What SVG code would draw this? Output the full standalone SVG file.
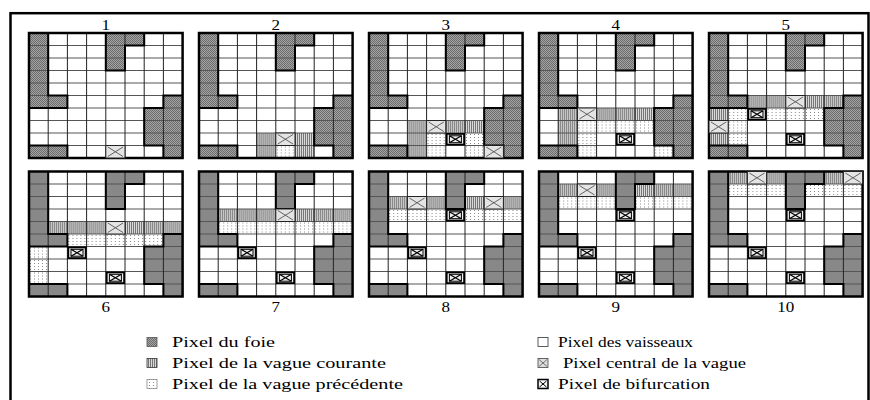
<svg xmlns="http://www.w3.org/2000/svg" xmlns:xlink="http://www.w3.org/1999/xlink" width="870" height="400" viewBox="0 0 870 400">
<style>
.lbl{font-family:"Liberation Serif","Times New Roman",serif;font-size:14.5px;fill:#000;text-anchor:middle}
.leg{font-family:"Liberation Serif","Times New Roman",serif;font-size:15px;fill:#000}
.vl{stroke:#222;stroke-width:1;fill:none}
.hl{stroke:#555;stroke-width:1;fill:none}
.lo{stroke:#000;stroke-width:2;fill:none}
.ob{stroke:#000;stroke-width:2.5;fill:none}
</style>
<defs>
<pattern id="pLiver" width="2" height="2" patternUnits="userSpaceOnUse">
<rect width="2" height="2" fill="#a4a4a4"/><rect width="1" height="1" fill="#6c6c6c"/><rect x="1" y="1" width="1" height="1" fill="#6c6c6c"/>
</pattern>
<pattern id="pCur" width="2" height="4" patternUnits="userSpaceOnUse">
<rect width="2" height="4" fill="#dadada"/><rect width="1" height="4" fill="#767676"/>
</pattern>
<pattern id="pPrev" width="4" height="3" patternUnits="userSpaceOnUse">
<rect width="4" height="3" fill="#fff"/><rect x="1" y="1" width="1" height="1" fill="#8a8a8a"/>
</pattern>
<g id="cells">
<rect width="153.6" height="125" fill="#fff"/>
<g fill="url(#pLiver)">
<rect x="0" y="0" width="19.2" height="75"/>
<rect x="19.2" y="62.5" width="19.2" height="12.5"/>
<rect x="76.8" y="0" width="19.2" height="37.5"/>
<rect x="96" y="0" width="19.2" height="12.5"/>
<rect x="134.4" y="62.5" width="19.2" height="62.5"/>
<rect x="115.2" y="75" width="19.2" height="37.5"/>
<rect x="0" y="112.5" width="38.4" height="12.5"/>
</g>
</g>
<g id="lines">
<path class="hl" d="M0,12.5H153.6M0,25H153.6M0,37.5H153.6M0,50H153.6M0,62.5H153.6M0,75H153.6M0,87.5H153.6M0,100H153.6M0,112.5H153.6"/>
<path class="vl" d="M19.2,0V125M38.4,0V125M57.6,0V125M76.8,0V125M96,0V125M115.2,0V125M134.4,0V125"/>
<path class="lo" d="M19.2,0V62.5H38.4V75H0M76.8,0V37.5H96V12.5H115.2V0M153.6,62.5H134.4V75H115.2V112.5H134.4V125M0,112.5H38.4V125"/>
<rect class="ob" width="153.6" height="125"/>
</g>
<rect id="cur" width="19.2" height="12.5" fill="url(#pCur)"/>
<rect id="prev" width="19.2" height="12.5" fill="url(#pPrev)"/>
<g id="ctr">
<rect width="19.2" height="12.5" fill="#e4e4e4" stroke="#222" stroke-width="1"/>
<path d="M2,1.5L17.2,11M17.2,1.5L2,11" stroke="#555" stroke-width="0.9" fill="none"/>
</g>
<g id="bif">
<rect x="0.9" y="0.9" width="17.4" height="10.7" fill="#f0f0f0" stroke="#000" stroke-width="1.8"/>
<rect x="3.6" y="2.8" width="12" height="6.9" fill="none" stroke="#000" stroke-width="1"/>
<path d="M3.6,2.8L15.6,9.7M15.6,2.8L3.6,9.7" stroke="#000" stroke-width="1.3" fill="none"/>
</g>
</defs>

<rect x="10.5" y="13.2" width="858" height="400" fill="none" stroke="#000" stroke-width="2.5"/>

<g id="panel-1" transform="translate(29,33)">
<use href="#cells"/>
<use href="#lines"/>
<use href="#ctr" x="76.8" y="112.5"/>
</g>

<g id="panel-2" transform="translate(199,33)">
<use href="#cells"/>
<use href="#cur" x="57.6" y="100"/><use href="#cur" x="96" y="100"/>
<use href="#cur" x="57.6" y="112.5"/><use href="#cur" x="96" y="112.5"/>
<use href="#prev" x="76.8" y="112.5"/>
<use href="#lines"/>
<use href="#ctr" x="76.8" y="100"/>
</g>

<g id="panel-3" transform="translate(369,33)">
<use href="#cells"/>
<use href="#cur" x="38.4" y="87.5"/><use href="#cur" x="76.8" y="87.5"/><use href="#cur" x="96" y="87.5"/>
<use href="#cur" x="38.4" y="100"/><use href="#cur" x="38.4" y="112.5"/>
<use href="#prev" x="57.6" y="100"/><use href="#prev" x="96" y="100"/>
<use href="#prev" x="57.6" y="112.5"/><use href="#prev" x="96" y="112.5"/>
<use href="#lines"/>
<use href="#ctr" x="57.6" y="87.5"/><use href="#ctr" x="115.2" y="112.5"/>
<use href="#bif" x="76.8" y="100"/>
</g>

<g id="panel-4" transform="translate(539,33)">
<use href="#cells"/>
<use href="#cur" x="19.2" y="75"/><use href="#cur" x="57.6" y="75"/><use href="#cur" x="76.8" y="75"/><use href="#cur" x="96" y="75"/>
<use href="#cur" x="19.2" y="87.5"/><use href="#cur" x="19.2" y="100"/>
<use href="#prev" x="38.4" y="87.5"/><use href="#prev" x="57.6" y="87.5"/><use href="#prev" x="76.8" y="87.5"/><use href="#prev" x="96" y="87.5"/>
<use href="#prev" x="38.4" y="100"/><use href="#prev" x="38.4" y="112.5"/><use href="#prev" x="115.2" y="112.5"/>
<use href="#lines"/>
<use href="#ctr" x="38.4" y="75"/>
<use href="#bif" x="76.8" y="100"/>
</g>

<g id="panel-5" transform="translate(709,33)">
<use href="#cells"/>
<use href="#cur" x="38.4" y="62.5"/><use href="#cur" x="57.6" y="62.5"/><use href="#cur" x="96" y="62.5"/><use href="#cur" x="115.2" y="62.5"/>
<use href="#cur" x="0" y="75"/><use href="#cur" x="0" y="100"/>
<use href="#prev" x="19.2" y="75"/><use href="#prev" x="57.6" y="75"/><use href="#prev" x="76.8" y="75"/><use href="#prev" x="96" y="75"/>
<use href="#prev" x="19.2" y="87.5"/><use href="#prev" x="19.2" y="100"/>
<use href="#lines"/>
<use href="#ctr" x="76.8" y="62.5"/><use href="#ctr" x="0" y="87.5"/>
<use href="#bif" x="38.4" y="75"/><use href="#bif" x="76.8" y="100"/>
</g>

<g id="panel-6" transform="translate(29,171.5)">
<use href="#cells"/>
<use href="#cur" x="19.2" y="50"/><use href="#cur" x="38.4" y="50"/><use href="#cur" x="57.6" y="50"/><use href="#cur" x="96" y="50"/><use href="#cur" x="115.2" y="50"/><use href="#cur" x="134.4" y="50"/>
<use href="#prev" x="38.4" y="62.5"/><use href="#prev" x="57.6" y="62.5"/><use href="#prev" x="76.8" y="62.5"/><use href="#prev" x="96" y="62.5"/><use href="#prev" x="115.2" y="62.5"/>
<use href="#prev" x="0" y="75"/><use href="#prev" x="0" y="87.5"/><use href="#prev" x="0" y="100"/>
<use href="#lines"/>
<use href="#ctr" x="76.8" y="50"/>
<use href="#bif" x="38.4" y="75"/><use href="#bif" x="76.8" y="100"/>
</g>

<g id="panel-7" transform="translate(199,171.5)">
<use href="#cells"/>
<use href="#cur" x="19.2" y="37.5"/><use href="#cur" x="38.4" y="37.5"/><use href="#cur" x="57.6" y="37.5"/><use href="#cur" x="96" y="37.5"/><use href="#cur" x="115.2" y="37.5"/><use href="#cur" x="134.4" y="37.5"/>
<use href="#prev" x="19.2" y="50"/><use href="#prev" x="38.4" y="50"/><use href="#prev" x="57.6" y="50"/><use href="#prev" x="76.8" y="50"/><use href="#prev" x="96" y="50"/><use href="#prev" x="115.2" y="50"/><use href="#prev" x="134.4" y="50"/>
<use href="#lines"/>
<use href="#ctr" x="76.8" y="37.5"/>
<use href="#bif" x="38.4" y="75"/><use href="#bif" x="76.8" y="100"/>
</g>

<g id="panel-8" transform="translate(369,171.5)">
<use href="#cells"/>
<use href="#cur" x="19.2" y="25"/><use href="#cur" x="57.6" y="25"/><use href="#cur" x="96" y="25"/><use href="#cur" x="134.4" y="25"/>
<use href="#prev" x="19.2" y="37.5"/><use href="#prev" x="38.4" y="37.5"/><use href="#prev" x="57.6" y="37.5"/><use href="#prev" x="96" y="37.5"/><use href="#prev" x="115.2" y="37.5"/><use href="#prev" x="134.4" y="37.5"/>
<use href="#lines"/>
<use href="#ctr" x="38.4" y="25"/><use href="#ctr" x="115.2" y="25"/>
<use href="#bif" x="76.8" y="37.5"/><use href="#bif" x="38.4" y="75"/><use href="#bif" x="76.8" y="100"/>
</g>

<g id="panel-9" transform="translate(539,171.5)">
<use href="#cells"/>
<use href="#cur" x="19.2" y="12.5"/><use href="#cur" x="57.6" y="12.5"/><use href="#cur" x="96" y="12.5"/><use href="#cur" x="115.2" y="12.5"/><use href="#cur" x="134.4" y="12.5"/>
<use href="#prev" x="19.2" y="25"/><use href="#prev" x="38.4" y="25"/><use href="#prev" x="57.6" y="25"/><use href="#prev" x="96" y="25"/><use href="#prev" x="115.2" y="25"/><use href="#prev" x="134.4" y="25"/>
<use href="#lines"/>
<use href="#ctr" x="38.4" y="12.5"/>
<use href="#bif" x="76.8" y="37.5"/><use href="#bif" x="38.4" y="75"/><use href="#bif" x="76.8" y="100"/>
</g>

<g id="panel-10" transform="translate(709,171.5)">
<use href="#cells"/>
<use href="#cur" x="19.2" y="0"/><use href="#cur" x="57.6" y="0"/><use href="#cur" x="115.2" y="0"/>
<use href="#prev" x="19.2" y="12.5"/><use href="#prev" x="38.4" y="12.5"/><use href="#prev" x="57.6" y="12.5"/><use href="#prev" x="96" y="12.5"/><use href="#prev" x="115.2" y="12.5"/><use href="#prev" x="134.4" y="12.5"/>
<use href="#lines"/>
<use href="#ctr" x="38.4" y="0"/><use href="#ctr" x="134.4" y="0"/>
<use href="#bif" x="76.8" y="37.5"/><use href="#bif" x="38.4" y="75"/><use href="#bif" x="76.8" y="100"/>
</g>

<g id="labels">
<text class="lbl" x="105.8" y="30" textLength="8.5" lengthAdjust="spacingAndGlyphs">1</text>
<text class="lbl" x="275.8" y="30" textLength="8.5" lengthAdjust="spacingAndGlyphs">2</text>
<text class="lbl" x="445.8" y="30" textLength="8.5" lengthAdjust="spacingAndGlyphs">3</text>
<text class="lbl" x="615.8" y="30" textLength="8.5" lengthAdjust="spacingAndGlyphs">4</text>
<text class="lbl" x="785.8" y="30" textLength="8.5" lengthAdjust="spacingAndGlyphs">5</text>
<text class="lbl" x="105.8" y="311.5" textLength="8.5" lengthAdjust="spacingAndGlyphs">6</text>
<text class="lbl" x="275.8" y="311.5" textLength="8.5" lengthAdjust="spacingAndGlyphs">7</text>
<text class="lbl" x="445.8" y="311.5" textLength="8.5" lengthAdjust="spacingAndGlyphs">8</text>
<text class="lbl" x="615.8" y="311.5" textLength="8.5" lengthAdjust="spacingAndGlyphs">9</text>
<text class="lbl" x="785.8" y="311.5" textLength="17" lengthAdjust="spacingAndGlyphs">10</text>
</g>

<g id="legend">
<rect x="147" y="337.5" width="10" height="9" fill="url(#pLiver)" stroke="#555" stroke-width="0.8"/>
<rect x="147" y="358.5" width="10" height="9" fill="url(#pCur)" stroke="#333" stroke-width="0.8"/>
<rect x="147" y="379.5" width="10" height="9" fill="url(#pPrev)" stroke="#888" stroke-width="0.8"/>
<rect x="538" y="337.5" width="10" height="9" fill="#fff" stroke="#333" stroke-width="0.8"/>
<g>
<rect x="538" y="358.5" width="10" height="9" fill="#ddd" stroke="#444" stroke-width="0.8"/>
<path d="M539,359.5L547,366.5M547,359.5L539,366.5" stroke="#555" stroke-width="0.8" fill="none"/>
</g>
<g>
<rect x="538" y="379.5" width="10" height="9" fill="#f4f4f4" stroke="#000" stroke-width="1.5"/>
<path d="M539.5,381L546.5,387M546.5,381L539.5,387" stroke="#000" stroke-width="1" fill="none"/>
</g>
<text class="leg" x="172" y="346.5" textLength="103" lengthAdjust="spacingAndGlyphs">Pixel du foie</text>
<text class="leg" x="172" y="367.5" textLength="214" lengthAdjust="spacingAndGlyphs">Pixel de la vague courante</text>
<text class="leg" x="172" y="388.5" textLength="231" lengthAdjust="spacingAndGlyphs">Pixel de la vague précédente</text>
<text class="leg" x="558" y="346.5" textLength="135" lengthAdjust="spacingAndGlyphs">Pixel des vaisseaux</text>
<text class="leg" x="563" y="367.5" textLength="183" lengthAdjust="spacingAndGlyphs">Pixel central de la vague</text>
<text class="leg" x="558" y="388.5" textLength="152" lengthAdjust="spacingAndGlyphs">Pixel de bifurcation</text>
</g>
</svg>
